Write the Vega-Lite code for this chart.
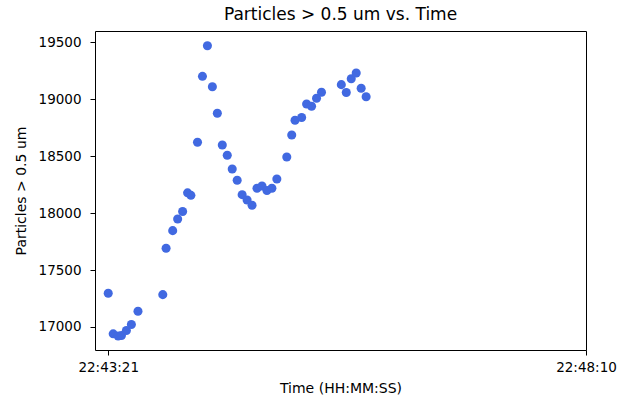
{
  "$schema": "https://vega.github.io/schema/vega-lite/v6.json",
  "autosize": "none",
  "width": 491,
  "height": 319,
  "padding": {"left": 95, "top": 31, "right": 44, "bottom": 52},
  "background": "white",
  "config": {
    "font": "DejaVu Sans",
    "view": {"stroke": "black", "strokeWidth": 1}
  },
  "title": {
    "text": "Particles > 0.5 um vs. Time",
    "fontSize": 17,
    "fontWeight": "normal",
    "color": "black",
    "font": "DejaVu Sans",
    "offset": 7,
    "anchor": "middle"
  },
  "data": {
    "values": [
      {"time": "2024-01-01T22:43:21", "particles": 17296},
      {"time": "2024-01-01T22:43:24", "particles": 16940},
      {"time": "2024-01-01T22:43:27", "particles": 16921},
      {"time": "2024-01-01T22:43:29", "particles": 16925},
      {"time": "2024-01-01T22:43:32", "particles": 16969},
      {"time": "2024-01-01T22:43:35", "particles": 17022},
      {"time": "2024-01-01T22:43:39", "particles": 17138},
      {"time": "2024-01-01T22:43:54", "particles": 17284},
      {"time": "2024-01-01T22:43:56", "particles": 17691},
      {"time": "2024-01-01T22:44:00", "particles": 17846},
      {"time": "2024-01-01T22:44:03", "particles": 17948},
      {"time": "2024-01-01T22:44:06", "particles": 18014},
      {"time": "2024-01-01T22:44:09", "particles": 18178},
      {"time": "2024-01-01T22:44:11", "particles": 18156},
      {"time": "2024-01-01T22:44:15", "particles": 18622},
      {"time": "2024-01-01T22:44:18", "particles": 19201},
      {"time": "2024-01-01T22:44:21", "particles": 19470},
      {"time": "2024-01-01T22:44:24", "particles": 19110},
      {"time": "2024-01-01T22:44:27", "particles": 18877},
      {"time": "2024-01-01T22:44:30", "particles": 18598},
      {"time": "2024-01-01T22:44:33", "particles": 18508},
      {"time": "2024-01-01T22:44:36", "particles": 18387},
      {"time": "2024-01-01T22:44:39", "particles": 18288},
      {"time": "2024-01-01T22:44:42", "particles": 18162},
      {"time": "2024-01-01T22:44:45", "particles": 18115},
      {"time": "2024-01-01T22:44:48", "particles": 18069},
      {"time": "2024-01-01T22:44:51", "particles": 18218},
      {"time": "2024-01-01T22:44:54", "particles": 18238},
      {"time": "2024-01-01T22:44:57", "particles": 18199},
      {"time": "2024-01-01T22:45:00", "particles": 18218},
      {"time": "2024-01-01T22:45:03", "particles": 18300},
      {"time": "2024-01-01T22:45:09", "particles": 18493},
      {"time": "2024-01-01T22:45:12", "particles": 18686},
      {"time": "2024-01-01T22:45:14", "particles": 18815},
      {"time": "2024-01-01T22:45:18", "particles": 18840},
      {"time": "2024-01-01T22:45:21", "particles": 18958},
      {"time": "2024-01-01T22:45:24", "particles": 18938},
      {"time": "2024-01-01T22:45:27", "particles": 19008},
      {"time": "2024-01-01T22:45:30", "particles": 19061},
      {"time": "2024-01-01T22:45:42", "particles": 19128},
      {"time": "2024-01-01T22:45:45", "particles": 19059},
      {"time": "2024-01-01T22:45:48", "particles": 19180},
      {"time": "2024-01-01T22:45:51", "particles": 19230},
      {"time": "2024-01-01T22:45:54", "particles": 19096},
      {"time": "2024-01-01T22:45:57", "particles": 19022}
    ]
  },
  "mark": {"type": "point", "filled": true, "opacity": 1, "color": "#4169E1", "size": 82},
  "encoding": {
    "x": {
      "field": "time",
      "type": "temporal",
      "scale": {
        "domain": [
          {"year": 2024, "month": 1, "date": 1, "hours": 22, "minutes": 43, "seconds": 13},
          {"year": 2024, "month": 1, "date": 1, "hours": 22, "minutes": 48, "seconds": 10}
        ],
        "nice": false
      },
      "axis": {
        "title": "Time (HH:MM:SS)",
        "values": [
          {"year": 2024, "month": 1, "date": 1, "hours": 22, "minutes": 43, "seconds": 21},
          {"year": 2024, "month": 1, "date": 1, "hours": 22, "minutes": 48, "seconds": 10}
        ],
        "format": "%H:%M:%S",
        "grid": false,
        "domain": false,
        "tickColor": "black",
        "tickSize": 5,
        "labelPadding": 5,
        "labelFontSize": 13.5,
        "labelColor": "black",
        "labelFont": "DejaVu Sans",
        "labelOverlap": false,
        "labelFlush": false,
        "titleFontSize": 14,
        "titleFontWeight": "normal",
        "titleColor": "black",
        "titleFont": "DejaVu Sans",
        "titlePadding": 8
      }
    },
    "y": {
      "field": "particles",
      "type": "quantitative",
      "scale": {"domain": [16798, 19599], "nice": false, "zero": false},
      "axis": {
        "title": "Particles > 0.5 um",
        "values": [17000, 17500, 18000, 18500, 19000, 19500],
        "format": "d",
        "grid": false,
        "domain": false,
        "tickColor": "black",
        "tickSize": 5,
        "labelPadding": 9,
        "labelFontSize": 13.5,
        "labelColor": "black",
        "labelFont": "DejaVu Sans",
        "labelOverlap": false,
        "titleFontSize": 14,
        "titleFontWeight": "normal",
        "titleColor": "black",
        "titleFont": "DejaVu Sans",
        "titlePadding": 10
      }
    }
  }
}
